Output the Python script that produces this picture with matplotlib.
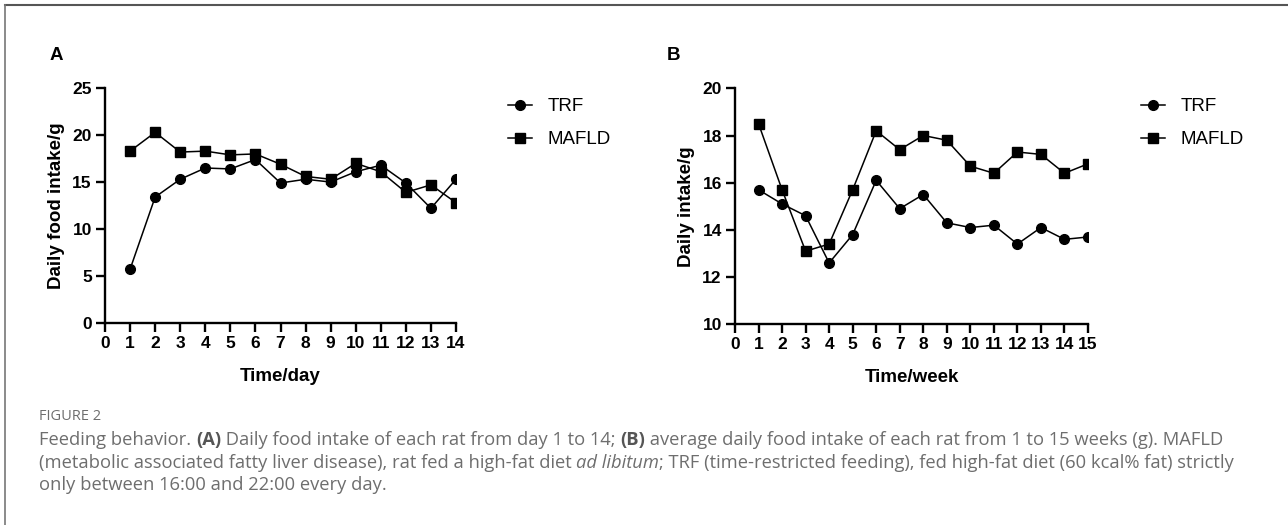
import numpy as np
import matplotlib
matplotlib.use("Agg")
import matplotlib.pyplot as plt
from matplotlib.lines import Line2D

plt.rcParams['font.family'] = ['Liberation Sans', 'DejaVu Sans']

# Panel A: daily food intake, day 1-14
days = np.arange(1, 15)
trf_day = [5.7, 13.4, 15.3, 16.5, 16.4, 17.4, 14.9, 15.3, 15.0, 16.1, 16.8, 14.9, 12.2, 15.3]
mafld_day = [18.3, 20.3, 18.2, 18.3, 17.9, 18.0, 16.9, 15.6, 15.3, 17.0, 16.1, 13.9, 14.7, 12.8]

# Panel B: average daily intake, week 1-15
weeks = np.arange(1, 16)
trf_week = [15.7, 15.1, 14.6, 12.6, 13.8, 16.1, 14.9, 15.5, 14.3, 14.1, 14.2, 13.4, 14.1, 13.6, 13.7]
mafld_week = [18.5, 15.7, 13.1, 13.4, 15.7, 18.2, 17.4, 18.0, 17.8, 16.7, 16.4, 17.3, 17.2, 16.4, 16.8]

W, H = 1288, 525
CAP_GREY = '#6e6e6e'


def px_box(left, right, bottom, top):
    """Axes rectangle from pixel edges (top-left origin)."""
    return [left / W, 1 - bottom / H, (right - left) / W, (bottom - top) / H]


def style_axes(ax):
    for side in ('top', 'right'):
        ax.spines[side].set_visible(False)
    for side in ('left', 'bottom'):
        ax.spines[side].set_linewidth(1.7)
    ax.tick_params(direction='out', length=6.5, width=1.7, labelsize=12.5, pad=3)
    for lab in ax.get_xticklabels() + ax.get_yticklabels():
        lab.set_fontweight('bold')


def plot_panel(ax, x, trf, mafld, xmax, ylim, yticks, xlabel, ylabel):
    ax.plot(x, trf, '-o', color='black', lw=1.1, ms=7, label='TRF')
    ax.plot(x, mafld, '-s', color='black', lw=1.1, ms=7, label='MAFLD')
    ax.set_xlim(0, xmax)
    ax.set_ylim(*ylim)
    ax.set_xticks(np.arange(0, xmax + 1))
    ax.set_yticks(yticks)
    ax.set_xlabel(xlabel, fontsize=13.5, fontweight='bold', labelpad=12)
    ax.set_ylabel(ylabel, fontsize=13.5, fontweight='bold', labelpad=5)
    for s in ax.spines.values():
        s.set_clip_on(False)
    style_axes(ax)


def add_legend(fig, ax, x_px, y_px):
    ax.legend(loc='upper left', bbox_to_anchor=(x_px / W, 1 - y_px / H),
              bbox_transform=fig.transFigure, frameon=False, fontsize=13.5,
              handlelength=1.3, handletextpad=0.8, labelspacing=0.85,
              borderpad=0, borderaxespad=0, numpoints=1)


def draw_rich(fig, x, y, pieces, **kw):
    """Draw text pieces with different styles one after another on a line."""
    renderer = fig.canvas.get_renderer()
    for txt, style in pieces:
        t = fig.text(x, y, txt, **{**kw, **style})
        bb = t.get_window_extent(renderer)
        x += bb.width / fig.bbox.width


fig = plt.figure(figsize=(W / 100, H / 100), dpi=100)

ax_a = fig.add_axes(px_box(105, 456, 322.7, 88.3))
plot_panel(ax_a, days, trf_day, mafld_day, 14, (0, 25), np.arange(0, 26, 5),
           'Time/day', 'Daily food intake/g')
add_legend(fig, ax_a, 508, 98)

ax_b = fig.add_axes(px_box(735, 1088, 324.3, 88.3))
plot_panel(ax_b, weeks, trf_week, mafld_week, 15, (10, 20), np.arange(10, 21, 2),
           'Time/week', 'Daily intake/g')
add_legend(fig, ax_b, 1141, 98)

fig.text(50 / W, 1 - 55 / H, 'A', fontsize=13.5, fontweight='bold', va='center')
fig.text(667 / W, 1 - 55 / H, 'B', fontsize=13.5, fontweight='bold', va='center')

# frame around the figure block
fig.add_artist(Line2D([5 / W, 1], [1 - 5 / H, 1 - 5 / H], transform=fig.transFigure,
                      color='#555555', lw=1.5))
fig.add_artist(Line2D([5 / W, 5 / W], [0, 1 - 5 / H], transform=fig.transFigure,
                      color='#777777', lw=1.2))

# caption
cap = dict(fontsize=13.25, color=CAP_GREY, va='center', family=['Open Sans', 'DejaVu Sans'])
fig.text(39 / W, 1 - 417 / H, 'FIGURE 2', fontsize=10.5, color=CAP_GREY, va='center',
         family=['Open Sans', 'DejaVu Sans'])
reg = {}
bold = {'fontweight': 'bold', 'color': '#555555'}
ital = {'style': 'italic'}
draw_rich(fig, 39 / W, 1 - 440 / H, [
    ('Feeding behavior. ', reg), ('(A)', bold),
    (' Daily food intake of each rat from day 1 to 14; ', reg), ('(B)', bold),
    (' average daily food intake of each rat from 1 to 15 weeks (g). MAFLD', reg)], **cap)
draw_rich(fig, 39 / W, 1 - 463 / H, [
    ('(metabolic associated fatty liver disease), rat fed a high-fat diet ', reg),
    ('ad libitum', ital),
    ('; TRF (time-restricted feeding), fed high-fat diet (60 kcal% fat) strictly', reg)], **cap)
fig.text(39 / W, 1 - 485 / H, 'only between 16:00 and 22:00 every day.', **cap)

fig.savefig('out.png', dpi=100)
